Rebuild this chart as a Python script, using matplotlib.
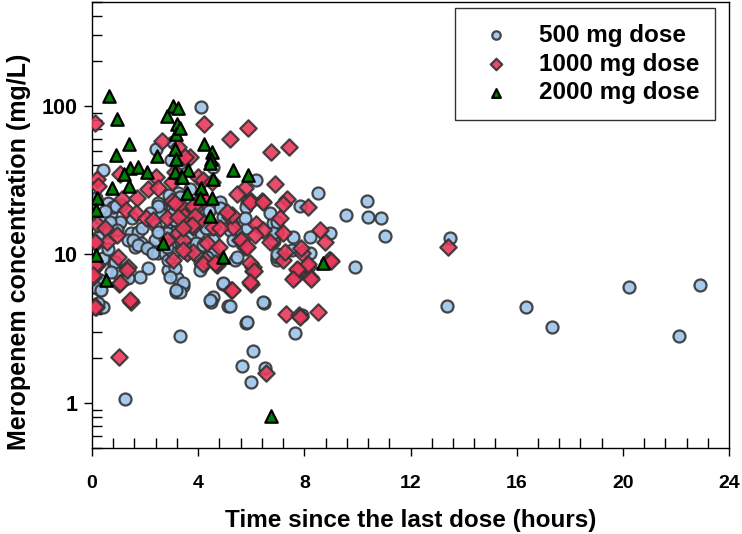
import numpy as np
import matplotlib
matplotlib.use("Agg")
import matplotlib.pyplot as plt
from matplotlib.ticker import FixedLocator, LogLocator, NullFormatter

plt.rcParams['font.family'] = ['Liberation Sans', 'DejaVu Sans']
plt.rcParams['font.weight'] = 'bold'

# 500 mg dose: (hours, mg/L)
t500 = [4.11, 0.41, 2.41, 3.05, 2.98, 6.18, 8.52, 10.36, 10.4, 9.57, 10.9, 11.04, 13.5,
        13.38, 16.35, 17.33, 20.23, 22.12, 22.9,
        0.04, 0.30, 0.23, 0.41, 3.32, 1.24, 4.94, 4.56, 4.48, 5.12, 3.17, 3.43, 5.80, 6.07,
        5.65, 5.99, 6.48, 6.52, 7.65, 9.91, 7.91, 2.11, 1.81, 2.86, 3.20, 4.07, 5.39, 6.97,
        0.79, 0.94, 1.17, 0.30,
        7.84, 8.97, 8.21, 7.57, 6.86, 6.97, 6.82, 7.54, 8.21, 6.97,
        4.94, 4.45, 5.20, 6.44, 5.84, 6.82, 6.97, 6.71, 5.46, 5.84, 5.31, 5.88, 4.82, 4.18,
        4.56, 4.07, 3.43, 3.32,
        0.60, 1.09, 2.60, 3.13, 0.72, 0.98, 1.47, 1.73, 1.85, 1.62, 2.19, 2.22, 2.49, 2.75,
        2.86, 3.13, 2.94, 3.17, 1.36, 0.87, 0.72, 0.11, 0.34, 0.23, 1.05, 0.60, 0.23, 1.36,
        2.37, 2.56, 2.94, 2.37, 2.86, 3.13, 2.56,
        0.0, 0.79, 0.30, 0.68, 0.94, 1.55, 1.73, 2.07, 2.30, 2.56, 2.49, 3.05, 3.39, 3.58,
        4.07, 4.82, 4.94, 5.20, 5.31, 5.46, 4.56, 4.56, 4.33, 3.96, 3.58, 3.05, 2.83, 3.32,
        3.13, 2.83, 2.49, 5.84, 5.80, 5.76, 6.97, 6.82, 0.15, 0.90, 2.49, 4.56, 3.32, 3.69,
        3.24, 3.50, 4.0, 4.3, 3.7, 3.9, 4.2, 3.6, 3.9, 4.4, 3.3, 2.9, 2.2, 1.5, 1.9, 0.5,
        0.1, 0.4, 0.6]
c500 = [98, 37, 51, 57, 43, 31.5, 25.8, 23, 17.8, 18.4, 17.5, 13.2, 12.9,
        4.5, 4.4, 3.25, 6.0, 2.83, 6.2,
        6.0, 5.8, 4.4, 4.4, 2.83, 1.07, 6.3, 5.2, 4.8, 4.5, 5.6, 6.1, 3.46, 2.24,
        1.78, 1.39, 4.7, 1.73, 2.97, 8.2, 3.9, 8.1, 7.0, 7.8, 6.9, 8.9, 9.2, 9.2,
        8.9, 7.5, 6.7, 6.7,
        21.1, 13.9, 13.1, 13.1, 12.3, 14.1, 16.2, 10.7, 10.2, 9.6,
        6.4, 4.9, 4.5, 4.8, 3.5, 12.5, 10.0, 18.9, 14.1, 15, 15.7, 23, 22.4, 8.5,
        10.4, 7.8, 6.4, 5.6,
        22.1, 21.5, 21.5, 21.5, 18.9, 15.7, 13.9, 14.1, 11.9, 11.2, 11.2, 10.7, 10.2, 10.2,
        9.2, 8.1, 7.1, 5.8, 6.9, 8.9, 7.6, 6.0, 5.8, 4.7, 16.5, 14.1, 13.1, 12.5,
        12.5, 14.1, 11.5, 15.7, 14.6, 17, 20.7,
        22.4, 20.7, 17.5, 16.5, 14.6, 12.5, 11.5, 11.0, 10.2, 18.9, 22.1, 18.9, 17.8, 19.8,
        23.1, 20.5, 17.8, 14.6, 12.5, 9.6, 12.5, 10.2, 9.6, 9.9, 10.2, 10.2, 11.2, 12.5,
        14.1, 13.9, 14.1, 22.4, 20.7, 17.5, 16.5, 13.9, 24, 21.1, 21.1, 39, 41, 27.5,
        26, 23.5, 14, 15, 13, 12, 11.5, 15.5, 17.0, 19.5, 24.5, 25, 19, 17.5, 15, 19.5,
        8.2, 9.5, 10.8]

# 1000 mg dose
t1000 = [0.11, 4.22, 5.88, 5.20, 2.64, 7.42, 6.74, 3.69, 1.05, 2.41, 0.19, 3.99, 6.90, 0.23,
         2.11, 5.76, 5.46, 7.35, 7.20, 6.41, 5.99, 1.13, 1.70, 8.14, 1.28, 1.66, 0.19, 0.49,
         0.94, 0.15, 0.57, 0.98, 1.36, 2.03, 2.30, 2.83, 3.01, 3.43, 3.81, 4.07, 4.56, 5.20,
         5.31, 5.58, 5.76, 6.07, 6.71, 7.20, 7.91, 8.14, 8.59, 8.78, 8.97, 3.24, 3.58, 3.05,
         4.26, 4.71, 2.83, 3.39, 3.50, 3.88, 4.18, 4.52, 4.14, 2.49, 3.01, 3.13, 3.24, 3.50,
         0.19, 0.04, 1.32, 1.02, 0.15, 1.47, 1.02, 5.24, 5.99, 6.07, 4.18, 4.67, 7.31, 7.80,
         8.52, 8.21, 7.65, 7.76, 8.14, 8.93, 6.56, 7.20,
         7.08, 7.87, 7.27, 9.01, 7.72, 7.57, 8.25, 7.84, 13.4,
         3.81, 3.47, 3.88, 3.77, 4.82, 5.28, 5.09, 5.95, 6.44, 6.18, 6.44, 6.14, 5.61, 5.84,
         4.33, 4.79, 3.43, 3.81, 4.63, 5.95, 6.10, 5.95, 5.28,
         0.11, 0.11, 0.04, 1.05, 1.43, 0.11, 3.13, 3.24, 3.43, 3.43]
c1000 = [77, 75, 71, 60, 58, 53, 49, 45, 35, 33, 32, 33, 30, 29,
         27.4, 28, 25.4, 23.5, 22, 23, 23, 23.5, 24, 20.7, 20, 19, 16, 15,
         13.5, 11.9, 12.1, 9.6, 8.2, 17.5, 17, 17.5, 23, 19, 15.3, 17, 15.3, 17.8,
         15.3, 12.5, 11.2, 8.2, 12.1, 13.9, 10.2, 8.2, 14.6, 12.1, 9.2, 13.9, 10.2, 9.2,
         9.2, 8.5, 12.5, 20.7, 16.5, 20.5, 31.5, 30.5, 23.9, 27.9, 30.5, 36, 53, 45,
         8.5, 7.1, 7.8, 6.3, 4.4, 4.8, 2.05, 5.8, 6.3, 7.7, 8.6, 8.6, 4.0, 3.9,
         4.1, 7.0, 7.0, 7.8, 8.6, 9.2, 1.6, 9.2,
         17.5, 11.0, 10.4, 9.0, 8.0, 6.8, 6.8, 3.8, 11.2,
         21.1, 18.1, 18.1, 15.7, 15.0, 18.4, 19.2, 22.4, 22.4, 16.0, 14.6, 13.5, 12.5, 11.2,
         11.9, 11.2, 12.5, 10.4, 8.8, 8.8, 7.7, 6.5, 5.8,
         12.1, 8.5, 7.3, 6.4, 4.9, 4.4, 22.1, 17.8, 15.0, 10.7]

# 2000 mg dose
t2000 = [0.63, 0.94, 1.39, 0.90, 1.43, 1.21, 1.73, 2.07, 0.75, 1.39, 0.19, 0.15, 0.15, 0.53,
         3.05, 2.83, 3.20, 3.17, 3.13, 2.45, 3.17, 3.13, 3.35, 3.24, 3.32, 4.22, 4.52, 4.48,
         4.45, 5.31, 5.88, 4.56, 3.62, 3.39, 4.11, 4.52, 4.07, 3.58, 4.45, 2.68, 4.94, 8.70,
         6.74]
c2000 = [117, 82, 55, 47, 38, 35, 39, 36, 28, 29, 24, 20, 9.9, 6.7,
         100, 86, 76, 65, 51, 46, 44, 36, 33, 97, 71, 55, 49, 44,
         41, 37, 34, 32, 37, 33, 28, 24, 24, 26, 18, 11.9, 9.6, 8.7,
         0.82]

fig = plt.figure(figsize=(7.42, 5.34), dpi=100)
ax = fig.add_axes([0.124, 0.1616, 0.8585, 0.8347])

ax.scatter(t500, c500, s=75, marker='o', facecolor='#9cc3ea', edgecolor='#333333',
           linewidth=1.6, alpha=0.9, label='500 mg dose', zorder=2)
ax.scatter(t1000, c1000, s=70, marker='D', facecolor='#e8385c', edgecolor='#333333',
           linewidth=1.6, alpha=0.9, label='1000 mg dose', zorder=3)
ax.scatter(t2000, c2000, s=80, marker='^', facecolor='#008000', edgecolor='black',
           linewidth=1.6, label='2000 mg dose', zorder=4)

ax.set_yscale('log')
ax.set_xlim(0, 24)
ax.set_ylim(0.5, 500)

ax.xaxis.set_major_locator(FixedLocator([0, 4, 8, 12, 16, 20, 24]))
ax.xaxis.set_minor_locator(FixedLocator(np.arange(0, 24.01, 0.8)))
ax.yaxis.set_major_locator(FixedLocator([1, 10, 100]))
ax.yaxis.set_minor_locator(LogLocator(base=10, subs=np.arange(2, 10)))
ax.yaxis.set_minor_formatter(NullFormatter())
ax.set_yticklabels(['1', '10', '100'])

ax.tick_params(which='major', direction='out', length=6, width=1)
ax.tick_params(which='minor', direction='in', length=7, width=1)
ax.tick_params(axis='x', which='major', pad=14, labelsize=14)
ax.tick_params(axis='y', which='major', pad=4, labelsize=15.5)
for lbl in ax.get_xticklabels() + ax.get_yticklabels():
    lbl.set_fontweight('bold')

for sp in ax.spines.values():
    sp.set_linewidth(1)

ax.set_xlabel('Time since the last dose (hours)', fontsize=17.5, fontweight='bold', labelpad=12)
ax.set_ylabel('Meropenem concentration (mg/L)', fontsize=18, fontweight='bold', labelpad=8)
ax.yaxis.set_label_coords(-0.095, 0.44)

leg = ax.legend(loc='upper right', fontsize=17.5, frameon=True, fancybox=False,
                edgecolor='black', markerscale=0.7, handlelength=2.08, handletextpad=0.73,
                borderpad=0.65, labelspacing=0.24, borderaxespad=0,
                bbox_to_anchor=(0.978, 0.9865))
leg.get_frame().set_linewidth(1)
for t in leg.get_texts():
    t.set_fontweight('bold')

fig.savefig('out.png', dpi=100)
